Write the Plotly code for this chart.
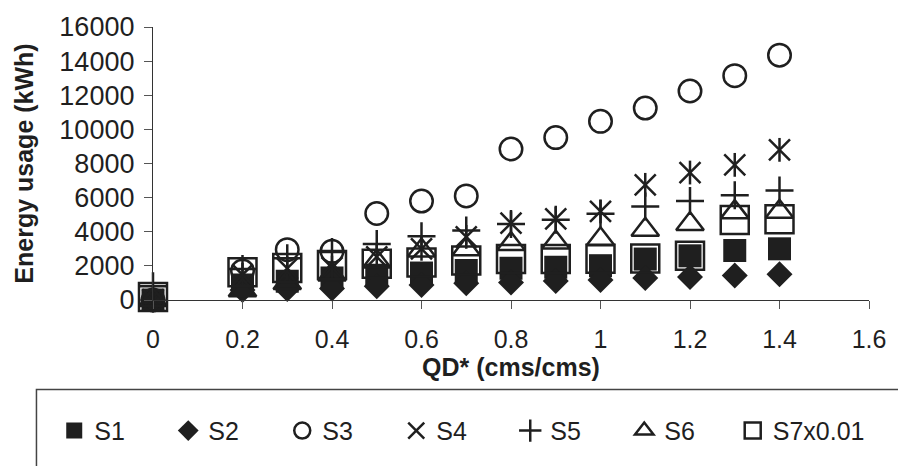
import plotly.graph_objects as go

# ---- data ----
qd = [0, 0.2, 0.3, 0.4, 0.5, 0.6, 0.7, 0.8, 0.9, 1.0, 1.1, 1.2, 1.3, 1.4]
s1 = [0, 880, 1100, 1290, 1450, 1580, 1730, 1860, 1920, 2010, 2400, 2590, 2900, 3000]
s2 = [0, 580, 640, 680, 800, 880, 980, 1030, 1120, 1170, 1290, 1350, 1440, 1510]
s3 = [0, 1700, 2950, 2850, 5070, 5800, 6100, 8850, 9520, 10470, 11250, 12250, 13150, 14350]
s4 = [0, 1480, 1860, 1900, 2530, 3000, 3700, 4500, 4760, 5190, 6750, 7470, 7920, 8800]
s5 = [800, 1820, 2450, 2820, 3280, 3730, 4080, 4450, 4700, 5050, 5480, 5800, 6140, 6420]
s6 = [0, 570, 1000, 1500, 2250, 2900, 2980, 3280, 3370, 3560, 4120, 4450, 5150, 5170]
s7 = [170, 1630, 1880, 2050, 2130, 2200, 2310, 2410, 2410, 2420, 2430, 2600, 4690, 4730]
names = ["S1", "S2", "S3", "S4", "S5", "S6", "S7x0.01"]
x_ticks = [0, 0.2, 0.4, 0.6, 0.8, 1, 1.2, 1.4, 1.6]
y_ticks = [0, 2000, 4000, 6000, 8000, 10000, 12000, 14000, 16000]

INK = "#1f1f1f"
FONT = "Liberation Sans, Arial, sans-serif"

fig = go.Figure()

def add(y, name, symbol, size, lw=2.5, show=True, group=None, legend="legend"):
    fig.add_trace(go.Scatter(
        x=qd, y=y, name=name, mode="markers", showlegend=show,
        legendgroup=group or name, cliponaxis=False, legend=legend,
        marker=dict(symbol=symbol, size=size, color=INK,
                    line=dict(color=INK, width=lw)),
    ))

add(s1, names[0], "square", 23, lw=0)
add(s2, names[1], "diamond", 20, lw=0)
add(s3, names[2], "circle-open", 22.5)
add(s4, names[3], "x-thin-open", 21)
add(s4, names[3], "line-ns-open", 17, show=False, group=names[3])
add(s5, names[4], "cross-thin-open", 20)
add(s6, names[5], "triangle-up-open", 24)
add(s7, names[6], "square-open", 28, legend="legend2")

L, R, T, B = 153, 20, 20, 165
W, H = 898, 466
pw, ph = W - L - R, H - T - B

def px_x(p):
    return (p - L) / pw

def px_y(p):
    return (H - B - p) / ph

legend_common = dict(
    orientation="h", xanchor="left", yanchor="top",
    bgcolor="rgba(0,0,0,0)", borderwidth=0,
    font=dict(size=25, family=FONT, color=INK), tracegroupgap=0,
)

fig.update_layout(
    width=W, height=H,
    margin=dict(l=L, r=R, t=T, b=B),
    paper_bgcolor="white", plot_bgcolor="white",
    font=dict(family=FONT, color=INK, size=24),
    xaxis=dict(
        range=[0, 1.6], tickvals=x_ticks, ticktext=[f"{v:g}" for v in x_ticks],
        showgrid=False, zeroline=False, showline=True, linecolor="#333", linewidth=1.3,
        ticks="outside", ticklen=8, tickcolor="#555", tickwidth=1.2,
        tickfont=dict(size=25, family=FONT), ticklabelstandoff=9,
        title=dict(text="<b>QD* (cms/cms)</b>", font=dict(size=25, family=FONT), standoff=5),
    ),
    yaxis=dict(
        range=[0, 16000], tickvals=y_ticks, ticktext=[str(v) for v in y_ticks],
        showgrid=False, zeroline=False, showline=True, linecolor="#333", linewidth=1.3,
        ticks="outside", ticklen=8, tickcolor="#555", tickwidth=1.2,
        tickfont=dict(size=27, family=FONT), ticklabelstandoff=4,
        title=dict(text="<b>Energy usage (kWh)</b>", font=dict(size=25, family=FONT), standoff=18),
    ),
    legend=dict(legend_common, x=px_x(53), y=px_y(412),
                entrywidth=69, entrywidthmode="pixels"),
    legend2=dict(legend_common, x=px_x(740), y=px_y(412)),
    shapes=[dict(
        type="rect", xref="paper", yref="paper",
        x0=px_x(35), x1=px_x(910), y0=px_y(393), y1=px_y(480),
        line=dict(color="#444", width=1.5), fillcolor="rgba(0,0,0,0)", layer="below",
    )],
)

fig.write_html("out.html")
